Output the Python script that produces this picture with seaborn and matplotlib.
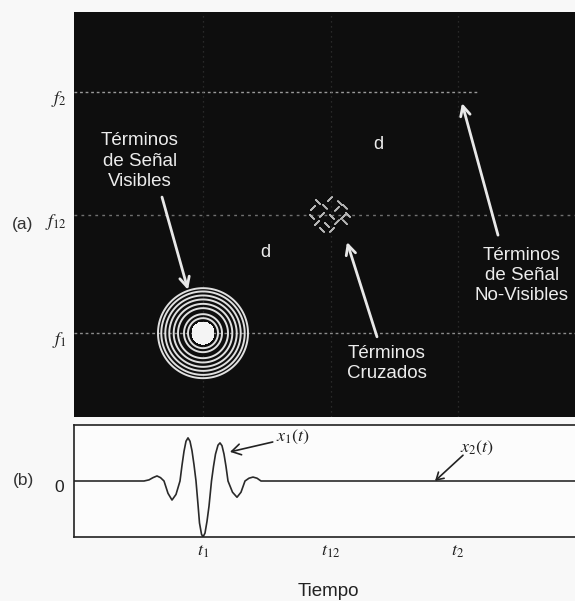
import numpy as np
import pandas as pd
import matplotlib
matplotlib.use("Agg")
import matplotlib.pyplot as plt
import matplotlib.transforms as mtransforms
import seaborn as sns

# ---- data -------------------------------------------------------------
# characteristic times and frequencies (axis units)
t1, t12, t2 = 25.8, 51.3, 76.8
f1, f12, f2 = 20.7, 49.9, 80.2
time_ticks = [t1, t12, t2]
time_labels = [r"$t_1$", r"$t_{12}$", r"$t_2$"]
freq_ticks = [f1, f12, f2]
freq_labels = [r"$f_1$", r"$f_{12}$", r"$f_2$"]

# x1(t): wavelet around t1 (x2(t) is too weak to be seen)
sig_t = [0.0, 14.0, 15.0, 15.8, 16.6, 17.3, 18.0, 18.8, 19.6, 20.4, 21.2,
         21.6, 22.0, 22.4, 22.8, 23.2, 23.6, 24.0, 24.4,
         24.8, 25.1, 25.5, 25.8, 26.2, 26.6, 27.0, 27.5,
         27.9, 28.3, 28.8, 29.2, 29.6, 30.0, 30.4, 30.8,
         31.7, 32.6, 33.4, 34.2, 35.0, 35.8, 36.6, 37.4, 39.0, 102.0]
sig_x = [0.0, 0.0, 0.02, 0.06, 0.09, 0.06, 0.0, -0.22, -0.34, -0.24, 0.0,
         0.28, 0.53, 0.71, 0.77, 0.71, 0.54, 0.29, 0.0,
         -0.42, -0.75, -0.95, -1.0, -0.93, -0.72, -0.45, 0.0,
         0.26, 0.48, 0.64, 0.68, 0.63, 0.48, 0.26, 0.0,
         -0.20, -0.29, -0.20, 0.0, 0.05, 0.07, 0.05, 0.0, 0.0, 0.0]

# contour rings of the auto term at (t1, f1), radii in pixels
ring_radii_px = [45, 41.7, 37.7, 33.7, 29.3, 25, 19, 15]
core_radius_px = 11

# oscillating cross-term fragments at (t12, f12)
cross_t = [48.8, 51.2, 53.2, 47.8, 50.2, 52.6, 54.2, 47.6, 49.6, 51.6,
           53.8, 54.8, 48.6, 50.6, 52.6, 54.2, 49.6, 51.6]
cross_f = [53.1, 53.8, 52.8, 51.6, 51.9, 51.4, 51.9, 49.4, 49.9, 49.4,
           49.4, 49.9, 47.9, 47.4, 48.1, 48.1, 46.2, 46.2]
cross_dir = ["/", "\\", "/", "\\", "/", "\\", "/", "/", "\\", "/",
             "\\", "/", "\\", "/", "\\", "/", "/", "\\"]

# ---- style ------------------------------------------------------------
sns.set_style("white")
plt.rcParams["font.family"] = ["Liberation Sans", "DejaVu Sans"]
plt.rcParams["mathtext.fontset"] = "stix"

W, H = 575, 601
fig = plt.figure(figsize=(W / 100, H / 100), dpi=100, facecolor="#f8f8f8")

# axes geometry in pixels
left_px, ax_w_px = 74, 510
top_a, bot_a = 12, 417
top_b, bot_b = 425, 537
ax_a = fig.add_axes([left_px / W, 1 - bot_a / H, ax_w_px / W, (bot_a - top_a) / H])
ax_b = fig.add_axes([left_px / W, 1 - bot_b / H, ax_w_px / W, (bot_b - top_b) / H])

x_max = 102.0
px_per_t = ax_w_px / x_max
px_per_f = (bot_a - top_a) / 100.0

# ---- (a) time-frequency plane ----------------------------------------
ax_a.set_facecolor("#0e0e0e")
ax_a.set_xlim(0, x_max)
ax_a.set_ylim(0, 100)

ax_a.axhline(f1, color="#8c8c8c", lw=1.0, ls=(0, (2, 2)), zorder=1)
ax_a.axhline(f12, color="#707070", lw=1.0, ls=(0, (2, 3)), zorder=1)
ax_a.hlines(f2, 0, 80.6, color="#9a9a9a", lw=1.0, ls=(0, (2, 2)), zorder=1)
for tv in time_ticks:
    ax_a.axvline(tv, color="#333333", lw=0.9, ls=(0, (1, 3)), zorder=1)

# rings around (t1, f1)
tg = np.linspace(t1 - 12, t1 + 12, 500)
fg = np.linspace(f1 - 15, f1 + 15, 500)
TT, FF = np.meshgrid(tg, fg)
R = np.hypot((TT - t1) * px_per_t, (FF - f1) * px_per_f)
ax_a.contour(TT, FF, R, levels=sorted(ring_radii_px), colors="#e0e0e0",
             linewidths=1.4, zorder=3)
ax_a.contourf(TT, FF, R, levels=[0, core_radius_px], colors="#f4f4f4",
              zorder=4)

# cross terms
cross_df = pd.DataFrame({"t": cross_t, "f": cross_f, "dir": cross_dir})
sns.scatterplot(data=cross_df, x="t", y="f", style="dir",
                markers={"/": (2, 2, 45), "\\": (2, 2, -45)},
                s=18, color="#b4b4b4", linewidth=1.1, legend=False, ax=ax_a,
                zorder=3)

txt_kw = dict(color="#ececec", fontsize=13.5, ha="center", va="center",
              linespacing=1.25)
ax_a.text(13.2, 63.2, "Términos\nde Señal\nVisibles", **txt_kw)
ax_a.text(62.6, 13.2, "Términos\nCruzados", **txt_kw)
ax_a.text(89.6, 34.9, "Términos\nde Señal\nNo-Visibles", **txt_kw)
ax_a.text(38.2, 40.5, "d", color="#ececec", fontsize=13, ha="center", va="center")
ax_a.text(60.8, 67.2, "d", color="#ececec", fontsize=13, ha="center", va="center")

arr_w = dict(arrowstyle="->,head_length=0.7,head_width=0.35", color="#e8e8e8",
             lw=2.0, shrinkA=0, shrinkB=0)
ax_a.annotate("", xy=(22.8, 31.4), xytext=(17.6, 54.3), arrowprops=arr_w)
ax_a.annotate("", xy=(54.6, 43.2), xytext=(60.6, 19.8), arrowprops=arr_w)
ax_a.annotate("", xy=(77.6, 77.5), xytext=(84.8, 44.9), arrowprops=arr_w)

ax_a.set_xticks([])
ax_a.set_yticks(freq_ticks)
ax_a.set_yticklabels(freq_labels, fontsize=13, color="#222222")
ax_a.tick_params(axis="y", length=0, pad=5)
shift_down = mtransforms.ScaledTranslation(0, -4 / 100, fig.dpi_scale_trans)
for lbl in ax_a.get_yticklabels():
    lbl.set_transform(lbl.get_transform() + shift_down)
for sp in ax_a.spines.values():
    sp.set_visible(False)
ax_a.set_xlabel("")
ax_a.set_ylabel("")

# ---- (b) time signal ---------------------------------------------------
sig_df = pd.DataFrame({"t": sig_t, "x": sig_x})
sns.lineplot(data=sig_df, x="t", y="x", color="#2a2a2a", lw=1.2, ax=ax_b)
ax_b.set_facecolor("#fcfcfc")
ax_b.set_xlim(0, x_max)
ax_b.set_ylim(-1, 1)
ax_b.set_xticks(time_ticks)
ax_b.set_xticklabels(time_labels, fontsize=13, color="#222222")
ax_b.tick_params(axis="x", length=0, pad=4)
ax_b.set_yticks([-0.5, 0, 0.5])
ax_b.set_yticklabels(["", "0", ""], fontsize=12.5, color="#222222")
ax_b.tick_params(axis="y", direction="in", length=4, width=0.9,
                 color="#333333", pad=7)
shift_down_b = mtransforms.ScaledTranslation(0, -5 / 100, fig.dpi_scale_trans)
for lbl in ax_b.get_yticklabels():
    lbl.set_transform(lbl.get_transform() + shift_down_b)
for side in ("left", "top", "bottom"):
    ax_b.spines[side].set_color("#222222")
    ax_b.spines[side].set_linewidth(1.2)
ax_b.spines["right"].set_visible(False)
ax_b.set_xlabel("")
ax_b.set_ylabel("")

arr_k = dict(arrowstyle="->,head_length=0.5,head_width=0.3", color="#222222",
             lw=1.2, shrinkA=0, shrinkB=0)
ax_b.annotate(r"$x_1(t)$", xy=(31.2, 0.52), xytext=(40.4, 0.78),
              fontsize=13, color="#222222", ha="left", va="center",
              arrowprops=arr_k)
ax_b.annotate("", xy=(72.2, 0.0), xytext=(77.8, 0.46), arrowprops=arr_k)
ax_b.text(80.6, 0.59, r"$x_2(t)$", fontsize=13, color="#222222",
          ha="center", va="center")

# ---- panel tags and axis title ----------------------------------------
fig.text(23 / W, 1 - 225 / H, "(a)", fontsize=12.5, color="#333333",
         ha="center", va="center")
fig.text(23 / W, 1 - 480 / H, "(b)", fontsize=12.5, color="#333333",
         ha="center", va="center")
fig.text(328 / W, 1 - 592 / H, "Tiempo", fontsize=13.5, color="#222222",
         ha="center", va="center")

fig.savefig("out.png", dpi=100, facecolor=fig.get_facecolor())
